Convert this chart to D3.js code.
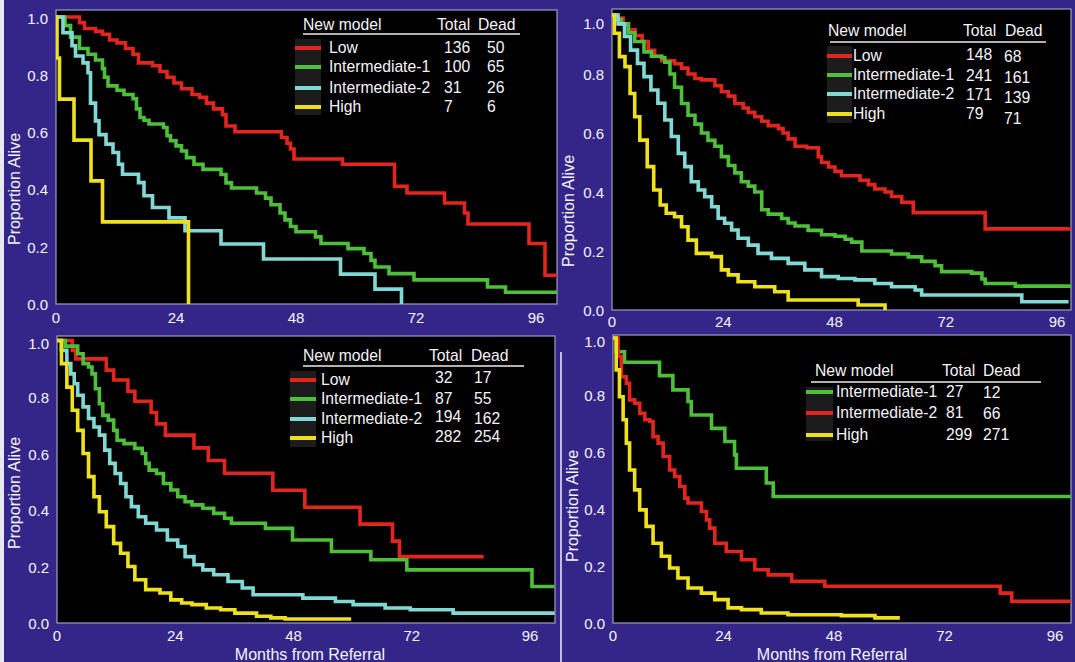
<!DOCTYPE html>
<html>
<head>
<meta charset="utf-8">
<script src="https://cdn.jsdelivr.net/npm/d3@7"></script>
<style>
  html, body { margin: 0; padding: 0; background: #332688; }
  svg { display: block; }
  text { font-family: "Liberation Sans", Arial, Helvetica, sans-serif; fill: #f4f4f8; }
</style>
</head>
<body>
<svg id="chart" width="1075" height="662"></svg>
<script>
// ---- shared axis labels ----
const xTickMonths = [0, 24, 48, 72, 96];
const yTickValues = [0, 0.2, 0.4, 0.6, 0.8, 1.0];
const xAxisTitle = "Months from Referral";
const yAxisTitle = "Proportion Alive";
const legendHeader = ["New model", "Total", "Dead"];

// ---- legend tables ----
const groupsA = ["Low", "Intermediate-1", "Intermediate-2", "High"];
const totalsA = [136, 100, 31, 7];
const deadA = [50, 65, 26, 6];

const groupsB = ["Low", "Intermediate-1", "Intermediate-2", "High"];
const totalsB = [148, 241, 171, 79];
const deadB = [68, 161, 139, 71];

const groupsC = ["Low", "Intermediate-1", "Intermediate-2", "High"];
const totalsC = [32, 87, 194, 282];
const deadC = [17, 55, 162, 254];

const groupsD = ["Intermediate-1", "Intermediate-2", "High"];
const totalsD = [27, 81, 299];
const deadD = [12, 66, 271];

// ---- Kaplan-Meier steps: [month, proportion alive] ----
// Cohort A
const kmA_low = [[0,1],[4.7,0.98],[5.7,0.96],[7.9,0.95],[9.3,0.94],[10.7,0.92],[12.2,0.91],[13.9,0.89],[15.4,0.87],[16.5,0.84],[19.3,0.83],[20.8,0.81],[22.2,0.79],[23.6,0.77],[25.1,0.75],[27.2,0.73],[28.7,0.72],[30.1,0.70],[31.5,0.68],[33.3,0.66],[34.0,0.62],[35.8,0.60],[45.1,0.58],[46.2,0.56],[46.9,0.54],[47.6,0.505],[57.3,0.487],[67.7,0.41],[70.2,0.387],[77.7,0.352],[81.7,0.317],[82.4,0.279],[94.6,0.211],[97.8,0.10],[100.5,0.10]];
const kmA_int1 = [[0,1],[1.8,0.97],[2.9,0.93],[4.7,0.89],[6.4,0.87],[7.9,0.85],[9.3,0.82],[9.7,0.79],[10.4,0.76],[12.2,0.745],[13.6,0.73],[15.4,0.715],[16.1,0.68],[16.8,0.65],[17.6,0.64],[18.6,0.627],[21.5,0.615],[22.2,0.586],[22.9,0.569],[24.0,0.551],[25.1,0.533],[26.1,0.51],[27.6,0.487],[29.4,0.469],[33.0,0.451],[34.0,0.422],[35.1,0.404],[40.1,0.387],[41.9,0.369],[43.0,0.346],[44.8,0.317],[45.8,0.293],[46.9,0.27],[48.0,0.252],[51.9,0.234],[53.0,0.211],[58.4,0.193],[61.6,0.176],[63.0,0.152],[63.8,0.129],[66.6,0.106],[71.6,0.084],[86.3,0.059],[89.9,0.041],[100.5,0.041]];
const kmA_int2 = [[0,1],[1.4,0.945],[3.2,0.90],[3.9,0.864],[5.4,0.84],[6.4,0.806],[6.9,0.70],[7.9,0.638],[8.6,0.59],[10.0,0.557],[11.4,0.528],[12.5,0.487],[13.3,0.452],[16.5,0.423],[17.6,0.377],[19.3,0.336],[22.6,0.30],[25.8,0.255],[33.0,0.209],[41.5,0.157],[56.9,0.104],[63.8,0.052],[69.1,0]];
const kmA_high = [[0,1],[0.2,0.857],[0.7,0.714],[3.6,0.571],[7.0,0.429],[9.3,0.286],[26.5,0]];

// Cohort B
const kmB_low = [[0,1],[1.2,0.99],[2.4,0.97],[3.6,0.95],[5.0,0.93],[6.5,0.91],[7.8,0.88],[9.2,0.86],[10.7,0.845],[13.5,0.835],[15.0,0.82],[16.4,0.80],[17.9,0.785],[19.3,0.78],[22.2,0.76],[23.6,0.74],[25.1,0.725],[26.5,0.70],[28.3,0.685],[29.4,0.67],[30.8,0.655],[32.3,0.64],[33.7,0.625],[35.9,0.615],[36.9,0.60],[38.0,0.58],[39.5,0.555],[42.0,0.55],[44.5,0.52],[45.2,0.50],[46.7,0.485],[48.1,0.47],[49.5,0.455],[53.5,0.44],[55.3,0.425],[56.7,0.41],[58.9,0.40],[60.3,0.385],[62.5,0.365],[65.0,0.33],[80.5,0.275],[100,0.275]];
const kmB_int1 = [[0,1],[1.0,0.985],[2.0,0.97],[3.5,0.94],[4.9,0.91],[6.9,0.875],[8.5,0.86],[10.7,0.855],[11.4,0.84],[12.5,0.80],[13.5,0.755],[15.0,0.70],[16.4,0.66],[17.9,0.63],[19.3,0.60],[20.7,0.575],[22.2,0.555],[23.6,0.52],[25.1,0.49],[26.5,0.465],[27.9,0.435],[29.4,0.42],[30.8,0.40],[32.3,0.34],[33.7,0.325],[36.6,0.31],[38.0,0.295],[39.5,0.285],[42.3,0.27],[45.2,0.255],[48.1,0.25],[50.3,0.24],[51.7,0.23],[53.9,0.20],[60.3,0.19],[63.9,0.18],[66.8,0.165],[69.7,0.15],[71.1,0.13],[77.6,0.125],[79.8,0.105],[80.5,0.09],[87.0,0.081],[100,0.081]];
const kmB_int2 = [[0,1],[1.3,0.97],[2.7,0.927],[4.0,0.881],[5.5,0.836],[6.9,0.791],[8.4,0.746],[9.9,0.701],[11.4,0.644],[12.8,0.588],[14.3,0.531],[15.7,0.486],[17.1,0.435],[18.6,0.407],[20.0,0.384],[21.5,0.35],[22.9,0.311],[24.3,0.294],[25.8,0.271],[27.2,0.243],[29.4,0.22],[31.5,0.192],[34.4,0.175],[38.0,0.158],[41.6,0.136],[45.2,0.113],[48.8,0.107],[52.4,0.102],[56.7,0.09],[60.3,0.079],[65.4,0.068],[66.8,0.051],[88.4,0.028],[98.5,0.028]];
const kmB_high = [[0,1],[0.5,0.938],[1.6,0.859],[2.8,0.825],[3.9,0.734],[4.9,0.655],[6.0,0.576],[7.6,0.486],[9.0,0.407],[10.4,0.356],[11.7,0.328],[13.5,0.316],[15.0,0.282],[16.4,0.237],[18.2,0.192],[21.5,0.181],[23.6,0.136],[25.1,0.119],[27.2,0.096],[30.8,0.079],[35.1,0.062],[38.0,0.034],[53.1,0.017],[58.9,0.004],[59.3,0.004]];

// Cohort C
const kmC_low = [[0,1],[3.1,0.965],[3.8,0.935],[10.0,0.895],[11.5,0.86],[14.4,0.82],[15.8,0.785],[19.1,0.745],[20.2,0.705],[22.0,0.665],[27.8,0.62],[30.7,0.575],[34.0,0.53],[43.8,0.47],[50.3,0.41],[61.5,0.35],[68.1,0.29],[69.5,0.235],[86.6,0.235]];
const kmC_int1 = [[0,1],[1.7,0.98],[4.2,0.953],[5.3,0.918],[6.4,0.906],[7.1,0.882],[7.8,0.829],[8.6,0.776],[9.3,0.735],[10.4,0.718],[11.5,0.682],[12.2,0.647],[13.6,0.635],[15.8,0.618],[17.3,0.60],[18.0,0.565],[18.7,0.541],[20.2,0.529],[21.6,0.494],[23.1,0.471],[24.5,0.447],[26.0,0.429],[27.4,0.418],[29.6,0.406],[31.8,0.388],[34.0,0.371],[35.4,0.353],[42.3,0.335],[47.8,0.294],[55.7,0.253],[63.7,0.224],[71.0,0.188],[96.4,0.129],[101,0.129]];
const kmC_int2 = [[0,1],[0.9,0.965],[2.0,0.918],[2.8,0.882],[3.5,0.847],[4.2,0.806],[5.3,0.765],[6.4,0.724],[7.5,0.694],[8.6,0.665],[9.7,0.612],[10.7,0.565],[11.8,0.529],[12.9,0.494],[14.0,0.447],[15.1,0.412],[16.5,0.376],[18.0,0.353],[20.2,0.329],[22.4,0.294],[24.5,0.271],[26.0,0.235],[27.8,0.206],[29.6,0.188],[31.8,0.171],[34.7,0.147],[37.6,0.124],[39.8,0.10],[49.9,0.088],[56.5,0.076],[60.1,0.065],[66.6,0.053],[71.7,0.047],[80.4,0.035],[101,0.035]];
const kmC_high = [[0,1],[0.9,0.918],[2.0,0.835],[3.1,0.753],[4.2,0.682],[5.3,0.60],[6.4,0.518],[7.5,0.447],[8.6,0.394],[10.0,0.341],[11.5,0.282],[12.9,0.247],[14.4,0.20],[15.8,0.153],[18.0,0.118],[20.9,0.106],[23.1,0.082],[25.3,0.071],[27.4,0.065],[30.3,0.053],[33.2,0.047],[36.1,0.035],[40.5,0.024],[43.4,0.018],[46.3,0.014],[59.7,0.014]];

// Cohort D
const kmD_int1 = [[0,1],[0.7,0.952],[2.5,0.915],[10.1,0.868],[13.0,0.818],[16.3,0.777],[17.0,0.73],[21.4,0.683],[24.3,0.637],[26.4,0.59],[26.8,0.543],[33.3,0.491],[34.8,0.444],[100,0.444]];
const kmD_int2 = [[0,1],[1.1,0.935],[1.8,0.864],[2.9,0.841],[3.6,0.783],[4.7,0.771],[5.8,0.736],[6.9,0.713],[8.0,0.707],[8.7,0.654],[9.8,0.631],[10.9,0.584],[12.3,0.537],[13.4,0.514],[14.5,0.479],[15.6,0.438],[16.3,0.421],[19.2,0.391],[20.3,0.362],[21.0,0.333],[22.1,0.28],[24.6,0.251],[27.9,0.222],[30.8,0.187],[33.7,0.169],[38.8,0.146],[46.0,0.129],[84.1,0.105],[86.6,0.076],[100,0.076]];
const kmD_high = [[0,1],[0.7,0.888],[1.4,0.794],[2.2,0.713],[2.9,0.631],[3.6,0.537],[4.7,0.467],[5.8,0.397],[7.2,0.339],[8.7,0.28],[10.5,0.234],[12.3,0.193],[14.1,0.158],[16.3,0.123],[19.2,0.105],[22.1,0.082],[25.0,0.053],[27.9,0.047],[32.2,0.035],[38.0,0.029],[49.6,0.026],[56.9,0.018],[62.3,0.018]];

// ---- colours ----
const RED = "#e2261d", GREEN = "#4dbf38", CYAN = "#80d9d4", YELLOW = "#eee01d";

// ---- panel layout ----
const panels = [
  { x0: 56, x96: 536, right: 557, top: 10, bottom: 304, y1: 17, oneDy: 2, xLabY: 318,
    yTitle: [14, 189], xTitle: null,
    series: [[kmA_low, RED], [kmA_int1, GREEN], [kmA_int2, CYAN], [kmA_high, YELLOW]],
    legend: { groups: groupsA, totals: totalsA, dead: deadA, colors: [RED, GREEN, CYAN, YELLOW],
      hx: 303, hy: 25, tx: 437, dx: 478, ux1: 303, ux2: 520, uy: 34,
      bx: 295, bw: 26, by1: 39, by2: 115, lx: 329, ntx: 444, ndx: 487,
      rows: [48, 67, 88, 107], totDy: [0, 0, 0, 0], deadDy: [0, 0, 0, 0] } },
  { x0: 612, x96: 1057, right: 1071, top: 9, bottom: 310, y1: 15, oneDy: 9, xLabY: 322,
    yTitle: [568, 211], xTitle: null,
    series: [[kmB_low, RED], [kmB_int1, GREEN], [kmB_int2, CYAN], [kmB_high, YELLOW]],
    legend: { groups: groupsB, totals: totalsB, dead: deadB, colors: [RED, GREEN, CYAN, YELLOW],
      hx: 828, hy: 31, tx: 963, dx: 1005, ux1: 830, ux2: 1046, uy: 42,
      bx: 827, bw: 25, by1: 46, by2: 123, lx: 853, ntx: 966, ndx: 1004,
      rows: [56, 75, 94, 114], totDy: [-1, 1, 1, 0], deadDy: [1, 3, 4, 5] } },
  { x0: 57, x96: 530, right: 555, top: 336, bottom: 623, y1: 340.5, oneDy: 3.5, xLabY: 636,
    yTitle: [14, 493], xTitle: [310, 654],
    series: [[kmC_low, RED], [kmC_int1, GREEN], [kmC_int2, CYAN], [kmC_high, YELLOW]],
    legend: { groups: groupsC, totals: totalsC, dead: deadC, colors: [RED, GREEN, CYAN, YELLOW],
      hx: 303, hy: 356, tx: 429, dx: 471, ux1: 303, ux2: 524, uy: 366,
      bx: 290, bw: 26, by1: 371, by2: 447, lx: 321, ntx: 435, ndx: 474,
      rows: [380, 399, 419, 438], totDy: [-2, 0, -2, -1], deadDy: [-2, 0, 0, -1] } },
  { x0: 613, x96: 1055, right: 1071, top: 335, bottom: 623, y1: 338, oneDy: 4, xLabY: 636,
    yTitle: [572, 506], xTitle: [832, 654],
    series: [[kmD_int1, GREEN], [kmD_int2, RED], [kmD_high, YELLOW]],
    legend: { groups: groupsD, totals: totalsD, dead: deadD, colors: [GREEN, RED, YELLOW],
      hx: 815, hy: 371, tx: 942, dx: 983, ux1: 811, ux2: 1041, uy: 382,
      bx: 806, bw: 27, by1: 387, by2: 441, lx: 836, ntx: 946, ndx: 983,
      rows: [392, 413, 435], totDy: [0, 0, 0], deadDy: [1, 1, 0] } }
];

const svg = d3.select("#chart");

// background
svg.append("rect").attr("width", 1075).attr("height", 662).attr("fill", "#332688");
svg.append("rect").attr("x", 0).attr("y", 0).attr("width", 4).attr("height", 662).attr("fill", "#e9e8f2");
// divider between the lower panels
svg.append("line").attr("x1", 561).attr("x2", 561).attr("y1", 352).attr("y2", 662)
  .attr("stroke", "#e6e4f2").attr("stroke-width", 1.6);

panels.forEach((p, i) => {
  const g = svg.append("g");
  const x = d3.scaleLinear().domain([0, 96]).range([p.x0, p.x96]);
  const y = d3.scaleLinear().domain([0, 1]).range([p.bottom, p.y1]);

  // plot area
  g.append("rect")
    .attr("x", p.x0).attr("y", p.top)
    .attr("width", p.right - p.x0).attr("height", p.bottom - p.top)
    .attr("fill", "#000").attr("stroke", "#a19dc6").attr("stroke-width", 1.2);

  const clipId = "clip" + i;
  svg.append("clipPath").attr("id", clipId).append("rect")
    .attr("x", p.x0).attr("y", p.top - 2)
    .attr("width", p.right - p.x0).attr("height", p.bottom - p.top + 2);

  // y tick labels
  g.selectAll(".ytick").data(yTickValues).join("text")
    .attr("x", p.x0 - 8)
    .attr("y", d => y(d) + (d === 1 ? p.oneDy : 1))
    .attr("dy", "0.35em")
    .attr("text-anchor", "end")
    .attr("font-size", 15)
    .text(d => d.toFixed(1));

  // x tick labels
  g.selectAll(".xtick").data(xTickMonths).join("text")
    .attr("x", d => x(d))
    .attr("y", p.xLabY)
    .attr("dy", "0.35em")
    .attr("text-anchor", "middle")
    .attr("font-size", 15)
    .text(d => d);

  // axis titles
  g.append("text")
    .attr("transform", `translate(${p.yTitle[0]},${p.yTitle[1]}) rotate(-90)`)
    .attr("dy", "0.35em")
    .attr("text-anchor", "middle")
    .attr("font-size", 16)
    .text(yAxisTitle);
  if (p.xTitle) {
    g.append("text")
      .attr("x", p.xTitle[0]).attr("y", p.xTitle[1])
      .attr("dy", "0.35em")
      .attr("text-anchor", "middle")
      .attr("font-size", 16)
      .text(xAxisTitle);
  }

  // survival curves
  const line = d3.line()
    .x(d => x(d[0]))
    .y(d => y(d[1]))
    .curve(d3.curveStepAfter);
  const curves = g.append("g").attr("clip-path", `url(#${clipId})`);
  p.series.forEach(([data, color]) => {
    curves.append("path")
      .datum(data)
      .attr("d", line)
      .attr("fill", "none")
      .attr("stroke", color)
      .attr("stroke-width", 3.6)
      .attr("stroke-linejoin", "miter")
      .attr("stroke-linecap", "butt");
  });

  // legend table
  const L = p.legend;
  const lg = g.append("g").attr("font-size", 15.7);
  lg.append("text").attr("x", L.hx).attr("y", L.hy).attr("dy", "0.35em").attr("font-size", 15.7).text(legendHeader[0]);
  lg.append("text").attr("x", L.tx).attr("y", L.hy).attr("dy", "0.35em").attr("font-size", 15.7).text(legendHeader[1]);
  lg.append("text").attr("x", L.dx).attr("y", L.hy).attr("dy", "0.35em").attr("font-size", 15.7).text(legendHeader[2]);
  lg.append("line").attr("x1", L.ux1).attr("x2", L.ux2).attr("y1", L.uy).attr("y2", L.uy)
    .attr("stroke", "#eeeeee").attr("stroke-width", 1.6);
  lg.append("rect").attr("x", L.bx).attr("y", L.by1).attr("width", L.bw).attr("height", L.by2 - L.by1)
    .attr("fill", "#1c1c1c");
  L.groups.forEach((name, k) => {
    const ry = L.rows[k];
    lg.append("line").attr("x1", L.bx).attr("x2", L.bx + L.bw).attr("y1", ry).attr("y2", ry)
      .attr("stroke", L.colors[k]).attr("stroke-width", 4);
    lg.append("text").attr("x", L.lx).attr("y", ry).attr("dy", "0.35em").attr("font-size", 15.7).text(name);
    lg.append("text").attr("x", L.ntx).attr("y", ry + L.totDy[k]).attr("dy", "0.35em").attr("font-size", 15.7).text(L.totals[k]);
    lg.append("text").attr("x", L.ndx).attr("y", ry + L.deadDy[k]).attr("dy", "0.35em").attr("font-size", 15.7).text(L.dead[k]);
  });
});
</script>
</body>
</html>
